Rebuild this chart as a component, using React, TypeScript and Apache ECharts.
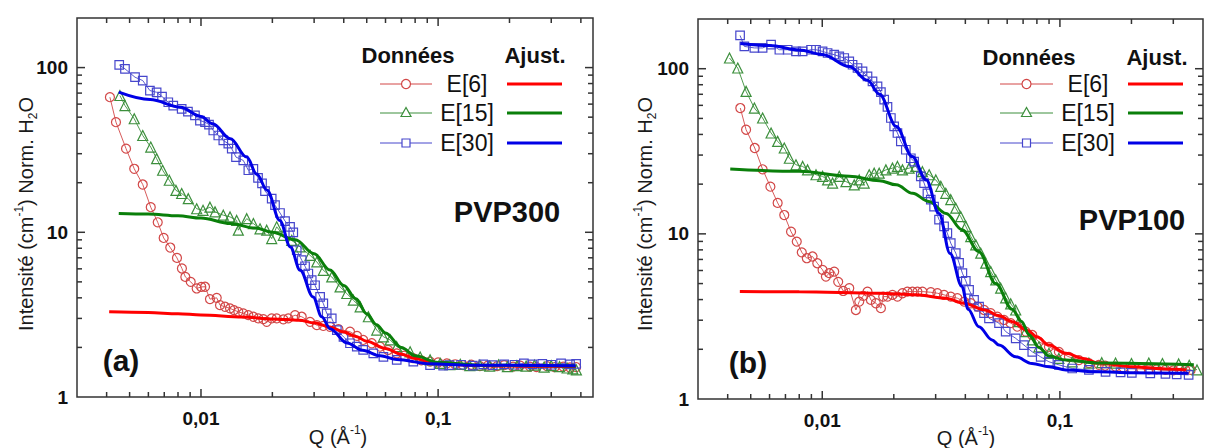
import React, { useEffect, useRef } from 'react';
import * as echarts from 'echarts';

// ---------- DATA (Q in 1/Å, intensity in 1/cm) ----------
// Panel (a) PVP300
const aE6Data: number[][] = [
  [0.00413, 66.1], [0.00438, 46.6], [0.00483, 32.2], [0.00523, 24.3], [0.00568, 19.5], [0.00614, 14.2],
  [0.00657, 11.5], [0.00696, 9.24], [0.00742, 8.08], [0.00792, 6.99], [0.00831, 6.03], [0.00859, 5.36],
  [0.00905, 5.0], [0.00959, 4.56], [0.01003, 4.66], [0.0104, 4.67], [0.01091, 3.93], [0.01165, 4.0],
  [0.01203, 3.61], [0.01263, 3.53], [0.01326, 3.45], [0.01378, 3.37], [0.01437, 3.29], [0.01508, 3.22],
  [0.01584, 3.14], [0.01663, 3.07], [0.01745, 3.0], [0.01832, 2.97], [0.01893, 2.86], [0.01987, 3.0],
  [0.02086, 3.0], [0.02225, 2.96], [0.02335, 3.0], [0.02493, 3.14], [0.0266, 3.07], [0.02884, 2.86],
  [0.0308, 2.73], [0.0328, 2.7], [0.035, 2.67], [0.038, 2.58], [0.0425, 2.49], [0.0455, 2.35],
  [0.0483, 2.22], [0.0525, 2.12], [0.0569, 2.02], [0.0615, 1.93], [0.0669, 1.84], [0.072, 1.78],
  [0.0784, 1.72], [0.085, 1.67], [0.0925, 1.64], [0.1, 1.62], [0.1088, 1.6], [0.118, 1.58],
  [0.1275, 1.56], [0.138, 1.57], [0.15, 1.54], [0.162, 1.55], [0.1774, 1.54], [0.19, 1.56],
  [0.207, 1.53], [0.222, 1.55], [0.244, 1.53], [0.26, 1.52], [0.288, 1.54], [0.31, 1.52],
  [0.337, 1.53], [0.36, 1.51], [0.382, 1.52],
];
const aE15Data: number[][] = [
  [0.00455, 67.7], [0.00478, 58.8], [0.00523, 48.9], [0.00568, 38.7], [0.00614, 32.9], [0.0065, 28.0],
  [0.00689, 23.8], [0.00735, 20.7], [0.00784, 17.97], [0.00829, 17.2], [0.00884, 16.0], [0.00959, 13.9],
  [0.0102, 13.6], [0.01091, 14.2], [0.01146, 13.3], [0.01242, 12.7], [0.01326, 12.4], [0.01414, 11.8],
  [0.01437, 10.3], [0.01559, 12.1], [0.01663, 11.3], [0.01774, 10.5], [0.01893, 10.3], [0.01987, 9.16],
  [0.02086, 10.8], [0.02225, 9.59], [0.02414, 8.94], [0.02617, 8.15], [0.02884, 7.25], [0.0308, 6.61],
  [0.0328, 5.88], [0.0356, 5.36], [0.0386, 4.66], [0.0412, 4.25], [0.0439, 3.87], [0.0469, 3.53],
  [0.0508, 3.07], [0.0551, 2.55], [0.0588, 2.32], [0.0628, 2.22], [0.0669, 2.02], [0.0762, 1.88],
  [0.084, 1.75], [0.0925, 1.68], [0.102, 1.6], [0.112, 1.57], [0.124, 1.58], [0.136, 1.55],
  [0.15, 1.56], [0.165, 1.54], [0.18, 1.57], [0.196, 1.53], [0.215, 1.55], [0.235, 1.54],
  [0.255, 1.56], [0.28, 1.52], [0.3, 1.55], [0.325, 1.53], [0.35, 1.5], [0.37, 1.48], [0.383, 1.46],
];
const aE30Data: number[][] = [
  [0.00452, 103.8], [0.00478, 98.2], [0.00527, 87.4], [0.00568, 83.4], [0.00609, 72.5], [0.0065, 70.8],
  [0.00685, 66.7], [0.00728, 61.6], [0.00764, 58.8], [0.00829, 56.2], [0.00881, 54.1], [0.00943, 51.2],
  [0.0099, 47.7], [0.0104, 46.6], [0.01081, 45.1], [0.01127, 41.5], [0.01183, 38.7], [0.01242, 36.1],
  [0.01304, 34.5], [0.01348, 32.2], [0.01405, 28.6], [0.01508, 27.3], [0.01584, 23.8], [0.01663, 24.3],
  [0.0174, 21.4], [0.01809, 19.8], [0.01862, 17.8], [0.01987, 16.0], [0.02052, 14.6], [0.02154, 13.1],
  [0.02262, 11.7], [0.02375, 10.8], [0.0245, 10.0], [0.02534, 7.78], [0.0266, 6.77], [0.02747, 6.22],
  [0.02836, 5.62], [0.02931, 5.12], [0.03027, 4.77], [0.0318, 4.05], [0.0328, 3.7], [0.0339, 3.22],
  [0.0356, 3.0], [0.0374, 2.55], [0.0399, 2.32], [0.0425, 2.12], [0.0454, 2.02], [0.0483, 1.93],
  [0.0533, 1.84], [0.0588, 1.75], [0.0669, 1.68], [0.0786, 1.64], [0.0925, 1.56], [0.105, 1.55],
  [0.1117, 1.56], [0.125, 1.57], [0.14, 1.55], [0.155, 1.58], [0.17, 1.56], [0.19, 1.58],
  [0.21, 1.57], [0.23, 1.6], [0.25, 1.58], [0.275, 1.59], [0.3, 1.57], [0.33, 1.6], [0.36, 1.58], [0.382, 1.59],
];
const aE6Fit: number[][] = [
  [0.0041, 3.29], [0.006, 3.26], [0.008, 3.2], [0.01, 3.15], [0.015, 3.06], [0.02, 2.98], [0.026, 2.92],
  [0.03, 2.82], [0.035, 2.66], [0.04, 2.48], [0.045, 2.33], [0.05, 2.18], [0.06, 1.97], [0.07, 1.82],
  [0.08, 1.71], [0.09, 1.65], [0.1, 1.61], [0.13, 1.56], [0.2, 1.54], [0.38, 1.53],
];
const aE15Fit: number[][] = [
  [0.0045, 13.0], [0.006, 12.9], [0.008, 12.6], [0.01, 12.2], [0.0133, 11.3], [0.017, 10.6], [0.02, 10.0],
  [0.025, 9.0], [0.03, 7.4], [0.035, 5.9], [0.04, 4.75], [0.045, 3.95], [0.05, 3.2], [0.055, 2.75],
  [0.06, 2.45], [0.07, 2.0], [0.08, 1.78], [0.1, 1.62], [0.15, 1.56], [0.38, 1.54],
];
const aE30Fit: number[][] = [
  [0.0045, 71], [0.0061, 64], [0.0082, 57.5], [0.01, 50.5], [0.0112, 45.6], [0.0133, 37], [0.0156, 28.6],
  [0.0172, 22.5], [0.019, 18.0], [0.0215, 11.8], [0.0238, 8.15], [0.0262, 5.88], [0.0297, 4.05],
  [0.0323, 3.07], [0.035, 2.6], [0.0413, 2.13], [0.048, 1.92], [0.057, 1.78], [0.067, 1.69],
  [0.0925, 1.59], [0.136, 1.56], [0.38, 1.55],
];

// Panel (b) PVP100
const bE6Data: number[][] = [
  [0.00452, 57.8], [0.00478, 42.7], [0.0052, 33.1], [0.00561, 24.6], [0.00605, 19.3], [0.00649, 15.4],
  [0.00692, 13.0], [0.00739, 10.3], [0.00781, 8.98], [0.0082, 7.73], [0.00861, 7.12], [0.0091, 7.29],
  [0.00953, 6.64], [0.01003, 6.05], [0.01036, 5.51], [0.0107, 5.78], [0.01123, 5.91], [0.01167, 5.12],
  [0.01225, 4.51], [0.01299, 4.69], [0.01385, 3.46], [0.01431, 3.89], [0.01487, 4.21], [0.0155, 4.47],
  [0.01602, 3.98], [0.01681, 3.8], [0.01765, 3.55], [0.01805, 4.17], [0.01881, 4.17], [0.01974, 4.27],
  [0.02072, 4.17], [0.02175, 4.37], [0.02282, 4.47], [0.02396, 4.47], [0.02514, 4.47], [0.02639, 4.47],
  [0.02862, 4.43], [0.03051, 4.37], [0.03255, 4.27], [0.03473, 4.17], [0.03702, 4.08], [0.03951, 3.89],
  [0.04216, 3.8], [0.04493, 3.63], [0.04794, 3.46], [0.05114, 3.31], [0.05453, 3.15], [0.05818, 3.01],
  [0.06207, 2.88], [0.06616, 2.74], [0.07176, 2.56], [0.0765, 2.44], [0.0816, 2.22], [0.0899, 2.07],
  [0.099, 1.93], [0.1091, 1.8], [0.1202, 1.72], [0.1324, 1.65], [0.1458, 1.61], [0.155, 1.59],
  [0.1714, 1.57], [0.185, 1.55], [0.2007, 1.53], [0.22, 1.52], [0.2366, 1.51], [0.255, 1.51],
  [0.278, 1.5], [0.3, 1.49], [0.32, 1.51], [0.337, 1.5], [0.355, 1.5],
];
const bE15Data: number[][] = [
  [0.00407, 116.1], [0.00441, 101.0], [0.00478, 72.9], [0.00518, 57.8], [0.00561, 50.3], [0.00609, 40.8],
  [0.00649, 36.3], [0.00692, 33.1], [0.00727, 28.7], [0.00775, 26.2], [0.00827, 25.6], [0.00867, 24.4],
  [0.00941, 22.8], [0.01003, 22.3], [0.01053, 21.2], [0.01105, 20.3], [0.01179, 22.3], [0.01258, 20.7],
  [0.01363, 19.8], [0.01431, 21.2], [0.01501, 20.3], [0.01576, 22.8], [0.01654, 23.3], [0.01736, 23.3],
  [0.01852, 24.4], [0.01974, 25.0], [0.02072, 25.6], [0.02175, 24.4], [0.0232, 25.0], [0.02476, 25.6],
  [0.02639, 23.8], [0.02817, 22.8], [0.03005, 21.2], [0.03153, 19.4], [0.03309, 17.6], [0.03473, 16.1],
  [0.03646, 14.3], [0.03826, 12.7], [0.04017, 11.1], [0.04216, 9.63], [0.04424, 8.58], [0.04644, 7.64],
  [0.04873, 6.64], [0.05114, 5.91], [0.0537, 5.26], [0.05633, 4.69], [0.05913, 4.1], [0.06207, 3.77],
  [0.06516, 3.46], [0.06725, 2.94], [0.07176, 2.56], [0.0765, 2.28], [0.0816, 2.07], [0.0899, 1.89],
  [0.099, 1.76], [0.1127, 1.68], [0.1324, 1.65], [0.15, 1.66], [0.1714, 1.65], [0.2, 1.64],
  [0.2366, 1.65], [0.27, 1.64], [0.316, 1.63], [0.35, 1.6], [0.3775, 1.5],
];
const bE30Data: number[][] = [
  [0.00451, 159], [0.0047, 136.5], [0.00518, 133.6], [0.00561, 133.6], [0.00609, 139.8], [0.0066, 130.3],
  [0.00715, 130.3], [0.00775, 127.3], [0.00827, 127.3], [0.00897, 130.3], [0.00941, 130.3], [0.01003, 127.3],
  [0.01053, 124.5], [0.01123, 121.6], [0.01179, 118.7], [0.01237, 116.1], [0.01299, 110.7], [0.01341, 105.7],
  [0.01407, 101.0], [0.01477, 96.3], [0.0155, 89.8], [0.01627, 83.8], [0.01708, 78.1], [0.01765, 72.1],
  [0.01822, 64.9], [0.01881, 58.8], [0.01944, 50.3], [0.02007, 44.7], [0.02072, 40.8], [0.02141, 36.3],
  [0.02247, 32.3], [0.02359, 28.7], [0.02435, 27.4], [0.02598, 22.3], [0.02683, 20.3], [0.0277, 17.6],
  [0.02862, 16.1], [0.02955, 14.6], [0.031, 12.2], [0.03255, 11.1], [0.0336, 10.1], [0.03473, 8.78],
  [0.03646, 7.64], [0.03764, 6.67], [0.03887, 5.78], [0.04017, 5.19], [0.04147, 4.58], [0.04352, 3.98],
  [0.04568, 3.63], [0.04794, 3.31], [0.0503, 3.08], [0.05543, 2.88], [0.05913, 2.56], [0.06516, 2.33],
  [0.0706, 2.12], [0.0765, 1.93], [0.083, 1.8], [0.0899, 1.68], [0.099, 1.61], [0.1127, 1.53],
  [0.1324, 1.5], [0.1556, 1.46], [0.18, 1.45], [0.2007, 1.44], [0.24, 1.43], [0.278, 1.42],
  [0.31, 1.41], [0.348, 1.4],
];
const bE6Fit: number[][] = [
  [0.0045, 4.47], [0.008, 4.46], [0.0174, 4.37], [0.0248, 4.28], [0.0331, 4.08], [0.0393, 3.8],
  [0.0485, 3.46], [0.055, 3.2], [0.063, 2.94], [0.073, 2.6], [0.08, 2.38], [0.09, 2.12], [0.106, 1.89],
  [0.125, 1.76], [0.146, 1.65], [0.2, 1.57], [0.28, 1.52], [0.34, 1.5],
];
const bE15Fit: number[][] = [
  [0.0041, 24.7], [0.008, 23.9], [0.013, 22.3], [0.0174, 21.0], [0.0205, 19.8], [0.024, 17.6],
  [0.0281, 15.7], [0.0332, 13.3], [0.0387, 10.6], [0.0456, 7.8], [0.0537, 5.0], [0.0629, 3.5],
  [0.069, 2.95], [0.0741, 2.45], [0.0816, 2.05], [0.09, 1.82], [0.106, 1.72], [0.146, 1.65], [0.366, 1.61],
];
const bE30Fit: number[][] = [
  [0.00452, 142], [0.006, 138], [0.008, 130], [0.01, 122], [0.013, 103], [0.0155, 85], [0.0174, 70],
  [0.0205, 44.7], [0.0239, 29.4], [0.0274, 21.2], [0.031, 13.3], [0.0345, 7.6], [0.0387, 4.8],
  [0.0411, 3.5], [0.0456, 2.74], [0.0518, 2.28], [0.0554, 2.12], [0.0652, 1.8], [0.0763, 1.64],
  [0.09, 1.57], [0.106, 1.5], [0.146, 1.46], [0.2, 1.44], [0.348, 1.43],
];

// Axes / ticks
const xRangeA = [0.003, 0.45];
const xRangeB = [0.003, 0.4];
const yRange = [1, 200];
const xMajorTicks = [0.01, 0.1];
const xMinorTicks = [0.004, 0.005, 0.006, 0.007, 0.008, 0.009, 0.02, 0.03, 0.04, 0.05, 0.06, 0.07, 0.08, 0.09, 0.2, 0.3, 0.4];
const yMajorTicks = [10, 100];
const yMinorTicks = [2, 3, 4, 5, 6, 7, 8, 9, 20, 30, 40, 50, 60, 70, 80, 90];
const xLabelValues = [0.01, 0.1];
const xLabelTexts = ['0,01', '0,1'];
const yLabelValues = [1, 10, 100];
const yLabelTexts = ['1', '10', '100'];
const seriesNames = ['E[6]', 'E[15]', 'E[30]'];
const sampleNames = ['PVP300', 'PVP100'];
const panelTags = ['(a)', '(b)'];

// ---------- STYLE ----------
const FONT = '"Liberation Sans", Arial, Helvetica, sans-serif';
const DATA_COLORS = ['#d24747', '#3c8f3c', '#4646cc'];
const FIT_COLORS = ['#ff0000', '#0a7f0a', '#0000e6'];
const SYMBOLS = ['circle', 'triangle', 'rect'];
const SYMBOL_SIZES = [9, 10, 8.5];
const FRAME = '#333333';

const labelFor = (vals: number[], texts: string[]) => (v: number) => {
  for (let i = 0; i < vals.length; i++) {
    if (Math.abs(Math.log10(v) - Math.log10(vals[i])) < 1e-4) return texts[i];
  }
  return '';
};

function tickSeries(gi: number, axis: 'x' | 'y', values: number[], len: number) {
  return {
    type: 'custom',
    xAxisIndex: gi,
    yAxisIndex: gi,
    silent: true,
    z: 10,
    data: values.map((v) => (axis === 'x' ? [v, 10] : [0.01, v])),
    renderItem: (params: any, api: any) => {
      const cs = params.coordSys;
      const p = api.coord([api.value(0), api.value(1)]);
      const style = { stroke: FRAME, lineWidth: 1.5 };
      if (axis === 'x') {
        const x = p[0];
        return {
          type: 'group',
          children: [
            { type: 'line', shape: { x1: x, y1: cs.y + cs.height, x2: x, y2: cs.y + cs.height - len }, style },
            { type: 'line', shape: { x1: x, y1: cs.y, x2: x, y2: cs.y + len }, style },
          ],
        };
      }
      const y = p[1];
      return {
        type: 'group',
        children: [
          { type: 'line', shape: { x1: cs.x, y1: y, x2: cs.x + len, y2: y }, style },
          { type: 'line', shape: { x1: cs.x + cs.width, y1: y, x2: cs.x + cs.width - len, y2: y }, style },
        ],
      };
    },
  };
}

function dataSeries(gi: number, k: number, data: number[][]) {
  return {
    type: 'line',
    name: seriesNames[k],
    xAxisIndex: gi,
    yAxisIndex: gi,
    data,
    symbol: SYMBOLS[k],
    symbolSize: SYMBOL_SIZES[k],
    showAllSymbol: true,
    z: 2,
    lineStyle: { color: DATA_COLORS[k], width: 0.9 },
    itemStyle: { color: 'rgba(255,255,255,0)', borderColor: DATA_COLORS[k], borderWidth: 1.2 },
  };
}

function fitSeries(gi: number, k: number, data: number[][]) {
  return {
    type: 'line',
    name: seriesNames[k] + ' fit',
    xAxisIndex: gi,
    yAxisIndex: gi,
    data,
    symbol: 'none',
    smooth: 0.35,
    smoothMonotone: 'x',
    z: 4,
    lineStyle: { color: FIT_COLORS[k], width: 3 },
  };
}

const richAxis = {
  m: { fontSize: 20, fontFamily: FONT, fill: '#1a1a1a', lineHeight: 26 },
  sup: { fontSize: 12, fontFamily: FONT, fill: '#1a1a1a', verticalAlign: 'top' },
  sub: { fontSize: 12, fontFamily: FONT, fill: '#1a1a1a', verticalAlign: 'bottom' },
};

function legendGraphics(L: any) {
  const els: any[] = [];
  els.push({ type: 'text', x: L.hdrData, y: L.hdrY, style: { text: 'Données', fontSize: 22, fontWeight: 'bold', fontFamily: FONT, fill: '#111', align: 'center', verticalAlign: 'middle' } });
  els.push({ type: 'text', x: L.hdrFit, y: L.hdrY, style: { text: 'Ajust.', fontSize: 22, fontWeight: 'bold', fontFamily: FONT, fill: '#111', align: 'center', verticalAlign: 'middle' } });
  L.rows.forEach((y: number, k: number) => {
    els.push({ type: 'line', shape: { x1: L.lineX1, y1: y, x2: L.lineX2, y2: y }, style: { stroke: DATA_COLORS[k], lineWidth: 1 } });
    const mx = (L.lineX1 + L.lineX2) / 2;
    const ms = { stroke: DATA_COLORS[k], fill: '#fff', lineWidth: 1.2 };
    if (k === 0) els.push({ type: 'circle', shape: { cx: mx, cy: y, r: 4.5 }, style: ms });
    if (k === 1) els.push({ type: 'polygon', shape: { points: [[mx, y - 5.5], [mx - 5, y + 3.5], [mx + 5, y + 3.5]] }, style: ms });
    if (k === 2) els.push({ type: 'rect', shape: { x: mx - 4, y: y - 4, width: 8, height: 8 }, style: ms });
    els.push({ type: 'text', x: L.textX, y, style: { text: seriesNames[k], fontSize: 23, fontFamily: FONT, fill: '#111', align: 'center', verticalAlign: 'middle' } });
    els.push({ type: 'line', shape: { x1: L.fitX1, y1: y, x2: L.fitX2, y2: y }, style: { stroke: FIT_COLORS[k], lineWidth: 3 } });
  });
  return els;
}

export default function App() {
  const ref = useRef<HTMLDivElement>(null);
  useEffect(() => {
    if (!ref.current) return;
    const chart = echarts.init(ref.current, null, { renderer: 'svg' });
    const grids = [
      { left: 77, top: 18, width: 516, height: 379 },
      { left: 698, top: 19, width: 506, height: 380 },
    ];
    const xRanges = [xRangeA, xRangeB];
    const axisLabelX = { fontSize: 19, fontWeight: 'bold', fontFamily: FONT, color: '#111', margin: 12, formatter: labelFor(xLabelValues, xLabelTexts) };
    const axisLabelY = { fontSize: 19, fontWeight: 'bold', fontFamily: FONT, color: '#111', margin: 9, formatter: labelFor(yLabelValues, yLabelTexts) };

    const series: any[] = [];
    const panels = [
      { data: [aE6Data, aE15Data, aE30Data], fit: [aE6Fit, aE15Fit, aE30Fit] },
      { data: [bE6Data, bE15Data, bE30Data], fit: [bE6Fit, bE15Fit, bE30Fit] },
    ];
    panels.forEach((p, gi) => {
      p.data.forEach((d, k) => series.push(dataSeries(gi, k, d)));
      p.fit.forEach((d, k) => series.push(fitSeries(gi, k, d)));
      const xMax = xRanges[gi][1];
      series.push(tickSeries(gi, 'x', xMajorTicks.filter((v) => v < xMax * 0.99), 8));
      series.push(tickSeries(gi, 'x', xMinorTicks.filter((v) => v < xMax * 0.99), 5));
      series.push(tickSeries(gi, 'y', yMajorTicks, 8));
      series.push(tickSeries(gi, 'y', yMinorTicks, 5));
    });

    const graphic: any[] = [
      // y-axis titles
      { type: 'text', x: 26, y: 214, rotation: Math.PI / 2, style: { text: '{m|Intensité (cm}{sup|-1}{m|) Norm. H}{sub|2}{m|O}', rich: richAxis, align: 'center', verticalAlign: 'middle' } },
      { type: 'text', x: 645, y: 214, rotation: Math.PI / 2, style: { text: '{m|Intensité (cm}{sup|-1}{m|) Norm. H}{sub|2}{m|O}', rich: richAxis, align: 'center', verticalAlign: 'middle' } },
      // x-axis titles
      { type: 'text', x: 338, y: 437, style: { text: '{m|Q (Å}{sup|-1}{m|)}', rich: richAxis, align: 'center', verticalAlign: 'middle' } },
      { type: 'text', x: 966, y: 438, style: { text: '{m|Q (Å}{sup|-1}{m|)}', rich: richAxis, align: 'center', verticalAlign: 'middle' } },
      // sample names
      { type: 'text', x: 507, y: 212, style: { text: sampleNames[0], fontSize: 29, fontWeight: 'bold', fontFamily: FONT, fill: '#111', align: 'center', verticalAlign: 'middle' } },
      { type: 'text', x: 1132, y: 220, style: { text: sampleNames[1], fontSize: 29, fontWeight: 'bold', fontFamily: FONT, fill: '#111', align: 'center', verticalAlign: 'middle' } },
      // panel tags
      { type: 'text', x: 121, y: 360, style: { text: panelTags[0], fontSize: 30, fontWeight: 'bold', fontFamily: FONT, fill: '#111', align: 'center', verticalAlign: 'middle' } },
      { type: 'text', x: 748, y: 362, style: { text: panelTags[1], fontSize: 30, fontWeight: 'bold', fontFamily: FONT, fill: '#111', align: 'center', verticalAlign: 'middle' } },
      ...legendGraphics({ hdrData: 408, hdrFit: 535, hdrY: 55, rows: [84, 113, 143], lineX1: 380, lineX2: 432, textX: 467, fitX1: 507, fitX2: 562 }),
      ...legendGraphics({ hdrData: 1029, hdrFit: 1157, hdrY: 57, rows: [84, 113, 143], lineX1: 1000, lineX2: 1053, textX: 1088, fitX1: 1128, fitX2: 1183 }),
    ];

    chart.setOption({
      animation: false,
      backgroundColor: '#ffffff',
      grid: grids.map((g) => ({ ...g, show: true, borderColor: FRAME, borderWidth: 1.5, backgroundColor: 'transparent' })),
      xAxis: grids.map((_, gi) => ({
        type: 'log', logBase: 10, gridIndex: gi, min: xRanges[gi][0], max: xRanges[gi][1],
        axisLine: { show: false }, axisTick: { show: false }, splitLine: { show: false }, minorTick: { show: false },
        axisLabel: axisLabelX,
      })),
      yAxis: grids.map((_, gi) => ({
        type: 'log', logBase: 10, gridIndex: gi, min: yRange[0], max: yRange[1],
        axisLine: { show: false }, axisTick: { show: false }, splitLine: { show: false }, minorTick: { show: false },
        axisLabel: axisLabelY,
      })),
      series,
      graphic,
    });
    return () => chart.dispose();
  }, []);
  return <div ref={ref} style={{ position: 'absolute', left: 0, top: 0, width: 1206, height: 448 }} />;
}
